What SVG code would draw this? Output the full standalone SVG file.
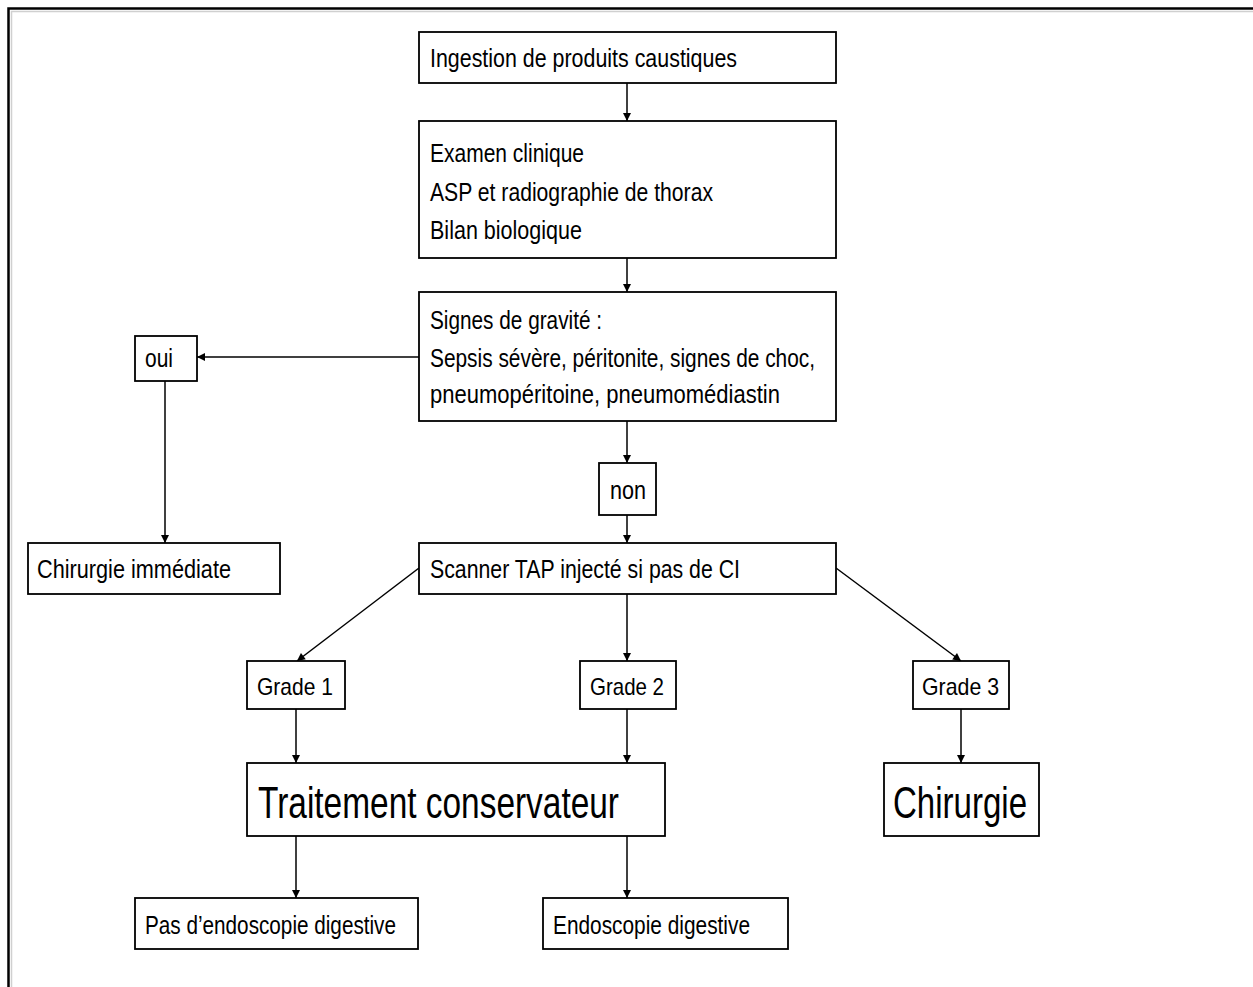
<svg xmlns="http://www.w3.org/2000/svg" width="1253" height="987" viewBox="0 0 1253 987">
<style>
.box{fill:#fff;stroke:#000;stroke-width:1.8}
.t{font-family:"Liberation Sans",Arial,sans-serif;font-size:26px;fill:#000}
.g{font-size:24px}
.big{font-size:44px}
.c{stroke:#000;stroke-width:1.5;fill:none;marker-end:url(#ah)}
</style>
<defs>
<marker id="ah" viewBox="0 0 10 10" refX="10" refY="5" markerWidth="9" markerHeight="8" markerUnits="userSpaceOnUse" orient="auto">
<path d="M0,0 L10,5 L0,10 z" fill="#000"/>
</marker>
</defs>
<rect width="1253" height="987" fill="#fff"/>
<g id="frame">
<path d="M11.5,987 V11.5 H1253" stroke="#d0d0d0" stroke-width="1.5" fill="none"/>
<path d="M8.5,987 V8.5 H1253" stroke="#000" stroke-width="2.5" fill="none"/>
</g>
<g id="connectors">
<line class="c" x1="627" y1="83" x2="627" y2="121"/>
<line class="c" x1="627" y1="258" x2="627" y2="292"/>
<line class="c" x1="419" y1="357" x2="197" y2="357"/>
<line class="c" x1="165" y1="381" x2="165" y2="543"/>
<line class="c" x1="627" y1="421" x2="627" y2="463"/>
<line class="c" x1="627" y1="515" x2="627" y2="543"/>
<line class="c" x1="419" y1="568" x2="297" y2="661"/>
<line class="c" x1="627" y1="594" x2="627" y2="661"/>
<line class="c" x1="836" y1="568" x2="961" y2="661"/>
<line class="c" x1="296" y1="709" x2="296" y2="763"/>
<line class="c" x1="627" y1="709" x2="627" y2="763"/>
<line class="c" x1="961" y1="709" x2="961" y2="763"/>
<line class="c" x1="296" y1="836" x2="296" y2="898"/>
<line class="c" x1="627" y1="836" x2="627" y2="898"/>
</g>
<g id="n1"><rect class="box" x="419" y="32" width="417" height="51"/>
<text class="t" x="430" y="67" textLength="307" lengthAdjust="spacingAndGlyphs">Ingestion de produits caustiques</text></g>
<g id="n2"><rect class="box" x="419" y="121" width="417" height="137"/>
<text class="t" x="430" y="162" textLength="154" lengthAdjust="spacingAndGlyphs">Examen clinique</text>
<text class="t" x="430" y="201" textLength="283" lengthAdjust="spacingAndGlyphs">ASP et radiographie de thorax</text>
<text class="t" x="430" y="239" textLength="152" lengthAdjust="spacingAndGlyphs">Bilan biologique</text></g>
<g id="n3"><rect class="box" x="419" y="292" width="417" height="129"/>
<text class="t" x="430" y="329" textLength="172" lengthAdjust="spacingAndGlyphs">Signes de gravité :</text>
<text class="t" x="430" y="367" textLength="385" lengthAdjust="spacingAndGlyphs">Sepsis sévère, péritonite, signes de choc,</text>
<text class="t" x="430" y="403" textLength="350" lengthAdjust="spacingAndGlyphs">pneumopéritoine, pneumomédiastin</text></g>
<g id="oui"><rect class="box" x="135" y="336" width="62" height="45"/>
<text class="t" x="145" y="367" textLength="28" lengthAdjust="spacingAndGlyphs">oui</text></g>
<g id="non"><rect class="box" x="599" y="463" width="57" height="52"/>
<text class="t" x="610" y="499" textLength="36" lengthAdjust="spacingAndGlyphs">non</text></g>
<g id="chir-imm"><rect class="box" x="28" y="543" width="252" height="51"/>
<text class="t" x="37" y="578" textLength="194" lengthAdjust="spacingAndGlyphs">Chirurgie immédiate</text></g>
<g id="scanner"><rect class="box" x="419" y="543" width="417" height="51"/>
<text class="t" x="430" y="578" textLength="310" lengthAdjust="spacingAndGlyphs">Scanner TAP injecté si pas de CI</text></g>
<g id="g1"><rect class="box" x="247" y="661" width="98" height="48"/>
<text class="t g" x="257" y="695" textLength="76" lengthAdjust="spacingAndGlyphs">Grade 1</text></g>
<g id="g2"><rect class="box" x="580" y="661" width="96" height="48"/>
<text class="t g" x="590" y="695" textLength="74" lengthAdjust="spacingAndGlyphs">Grade 2</text></g>
<g id="g3"><rect class="box" x="913" y="661" width="96" height="48"/>
<text class="t g" x="922" y="695" textLength="77" lengthAdjust="spacingAndGlyphs">Grade 3</text></g>
<g id="tc"><rect class="box" x="247" y="763" width="418" height="73"/>
<text class="t big" x="258" y="818" textLength="361" lengthAdjust="spacingAndGlyphs">Traitement conservateur</text></g>
<g id="chir"><rect class="box" x="884" y="763" width="155" height="73"/>
<text class="t big" x="893" y="818" textLength="134" lengthAdjust="spacingAndGlyphs">Chirurgie</text></g>
<g id="pas-endo"><rect class="box" x="135" y="898" width="283" height="51"/>
<text class="t" x="145" y="934" textLength="251" lengthAdjust="spacingAndGlyphs">Pas d’endoscopie digestive</text></g>
<g id="endo"><rect class="box" x="543" y="898" width="245" height="51"/>
<text class="t" x="553" y="934" textLength="197" lengthAdjust="spacingAndGlyphs">Endoscopie digestive</text></g>
</svg>
